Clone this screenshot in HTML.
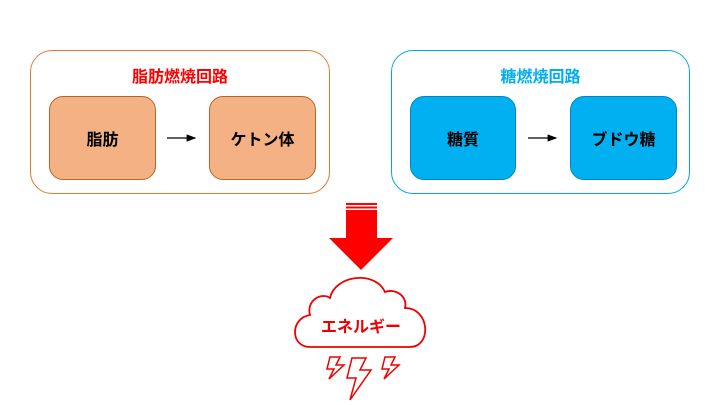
<!DOCTYPE html>
<html><head><meta charset="utf-8"><style>
body{margin:0;width:720px;height:405px;background:#fff;font-family:"Liberation Sans","Noto Sans CJK JP",sans-serif;position:relative;overflow:hidden}
.o{position:absolute;border-radius:22px;box-sizing:border-box;background:#fff}
.i{position:absolute;border-radius:14px;box-sizing:border-box;display:flex;align-items:center;justify-content:center;font-weight:bold;font-size:16px;color:#000}
.t{position:absolute;font-weight:bold;font-size:16px;text-align:center}
</style></head><body>
<div class="o" style="left:30px;top:50px;width:300px;height:144px;border:1px solid #e07b39"></div>
<div class="t" style="left:30px;top:63px;width:300px;color:#f00">脂肪燃焼回路</div>
<div class="i" style="left:49px;top:96px;width:107px;height:84px;background:#f4b183;border:1px solid #b5652a">脂肪</div>
<div class="i" style="left:209px;top:96px;width:107px;height:84px;background:#f4b183;border:1px solid #b5652a">ケトン体</div>
<div class="o" style="left:391px;top:50px;width:299px;height:144px;border:1px solid #00a8e0"></div>
<div class="t" style="left:391px;top:63px;width:299px;color:#00aeef">糖燃焼回路</div>
<div class="i" style="left:410px;top:96px;width:106px;height:84px;background:#00b0f0;border:1px solid #0088c0">糖質</div>
<div class="i" style="left:570px;top:96px;width:107px;height:84px;background:#00b0f0;border:1px solid #0088c0">ブドウ糖</div>
<svg width="720" height="405" style="position:absolute;left:0;top:0">
<defs><marker id="a" markerWidth="8" markerHeight="8" refX="7" refY="4" orient="auto"><path d="M0,1 L8,4 L0,7z" fill="#000"/></marker></defs>
<line x1="167" y1="138" x2="195" y2="138" stroke="#000" stroke-width="1.2" marker-end="url(#a)"/>
<line x1="528" y1="138" x2="556" y2="138" stroke="#000" stroke-width="1.2" marker-end="url(#a)"/>
<rect x="346" y="203" width="31" height="2" fill="#f00"/>
<rect x="346" y="206.5" width="31" height="2" fill="#f00"/>
<path d="M346,210 H377 V238 H393 L361,270 L329,238 H346Z" fill="#f00"/>
<path d="M310,347 C290,347 290,318 310,315 C306,300 322,292 330,298 C335,275 375,270 385,292 C395,288 408,296 405,308 C430,308 432,347 410,347Z" fill="#fff" stroke="#e00" stroke-width="1.8"/>
<text x="361" y="332" text-anchor="middle" font-size="16" font-weight="bold" fill="#e00" font-family="Liberation Sans,Noto Sans CJK JP,sans-serif">エネルギー</text>
<g fill="none" stroke="#e00" stroke-width="1.5" stroke-linejoin="miter">
<path d="M330,357 h10 l-4,8 h8 l-15,14 l5,-10 h-7z"/>
<path d="M352,358 h14 l-6,12 h11 l-21,30 l6,-22 h-9z"/>
<path d="M385,357 h10 l-4,8 h8 l-15,14 l5,-10 h-7z"/>
</g>
</svg>
</body></html>
